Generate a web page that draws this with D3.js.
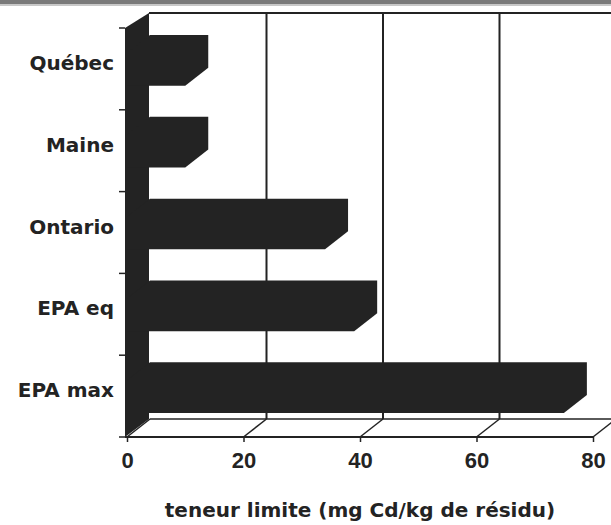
<!DOCTYPE html>
<html><head><meta charset="utf-8">
<script src="https://cdn.jsdelivr.net/npm/d3@7"></script>
<style>
html,body{margin:0;padding:0;background:#fff;}
svg{display:block;font-family:"DejaVu Sans",Arial,sans-serif;font-weight:bold;}
</style></head>
<body><svg id="c" width="611" height="525"></svg>
<script>
const categories = ["Québec","Maine","Ontario","EPA eq","EPA max"];
const values = [10, 10, 34, 39, 75];
const xTicks = [0, 20, 40, 60, 80];
const xTitle = "teneur limite (mg Cd/kg de résidu)";

const ink = "#232323";
const svg = d3.select("#c");
const dx = 23, dy = 18;            // depth offset
const x = d3.scaleLinear().domain([0, 80]).range([127, 593]);
const y = d3.scaleBand().domain(categories).range([28, 437]).paddingInner(0).paddingOuter(0);
const yBottom = 437, yTop = 31;

// scan noise band at top
svg.append("rect").attr("x",0).attr("y",0).attr("width",611).attr("height",4).attr("fill","#7a7a7a");
svg.append("rect").attr("x",0).attr("y",4).attr("width",611).attr("height",2).attr("fill","#c8c8c8");

// back wall top edge
svg.append("line").attr("x1", x(0)+dx-1).attr("x2", 611).attr("y1", yTop-dy).attr("y2", yTop-dy)
  .attr("stroke", ink).attr("stroke-width", 2);

// back-wall gridlines
svg.selectAll(".grid").data(xTicks.filter(d => d > 0)).join("line")
  .attr("x1", d => x(d)+dx).attr("x2", d => x(d)+dx)
  .attr("y1", yTop-dy).attr("y2", yBottom-dy)
  .attr("stroke", ink).attr("stroke-width", 2);

// floor
svg.append("line").attr("x1", x(0)+dx).attr("x2", 611).attr("y1", yBottom-dy).attr("y2", yBottom-dy)
  .attr("stroke", ink).attr("stroke-width", 1.5);
svg.selectAll(".diag").data(xTicks).join("line")
  .attr("x1", d => x(d)).attr("y1", yBottom)
  .attr("x2", d => x(d)+dx).attr("y2", yBottom-dy)
  .attr("stroke", ink).attr("stroke-width", 1.5);

// left wall
svg.append("path")
  .attr("d", `M${x(0)-2},${yTop-3} L${x(0)+dx-1},${yTop-dy} L${x(0)+dx-1},${yBottom-dy} L${x(0)-2},${yBottom} Z`)
  .attr("fill", ink);

// bars (3D silhouettes)
const bh = y.bandwidth()*0.40;
svg.selectAll(".bar").data(categories).join("path")
  .attr("fill", ink)
  .attr("d", (c, i) => {
    const x0 = x(0), xv = x(values[i]);
    const cy = y(c) + y.bandwidth()/2 + 0.5;
    const yt = cy - bh/2, yb = cy + bh/2;
    return `M${x0},${yt} L${x0+dx},${yt-dy} L${xv+dx},${yt-dy} L${xv+dx},${yb-dy} L${xv},${yb} L${x0},${yb} Z`;
  });

// front x axis
const gx = svg.append("g").attr("transform", `translate(0,${yBottom})`)
  .call(d3.axisBottom(x).tickValues(xTicks).tickSize(5).tickPadding(10).tickFormat(d3.format("d")));
gx.select(".domain").attr("stroke", ink).attr("stroke-width", 2).attr("d", `M${x(0)-2},0H${x(80)}`);
gx.selectAll(".tick line").attr("stroke", ink).attr("stroke-width", 1.5);
gx.selectAll(".tick text").attr("fill", ink).attr("font-size", 22).attr("font-weight","bold")
  .attr("font-family","'Liberation Sans',Arial,sans-serif");

// left ticks at band boundaries
const bounds = categories.map(c => y(c)).concat([y.range()[1]]);
svg.selectAll(".ltick").data(bounds).join("line")
  .attr("x1", x(0)-8).attr("x2", x(0)-2).attr("y1", d => d).attr("y2", d => d)
  .attr("stroke", ink).attr("stroke-width", 1.5);

// category labels
svg.selectAll(".clab").data(categories).join("text")
  .attr("x", 114).attr("y", c => y(c) + y.bandwidth()/2 + 1)
  .attr("text-anchor", "end").attr("font-size", 20).attr("fill", ink)
  .text(c => c);

// axis title
svg.append("text").attr("x", 360).attr("y", 517).attr("text-anchor","middle")
  .attr("font-size", 20).attr("fill", ink).text(xTitle);
</script></body></html>
